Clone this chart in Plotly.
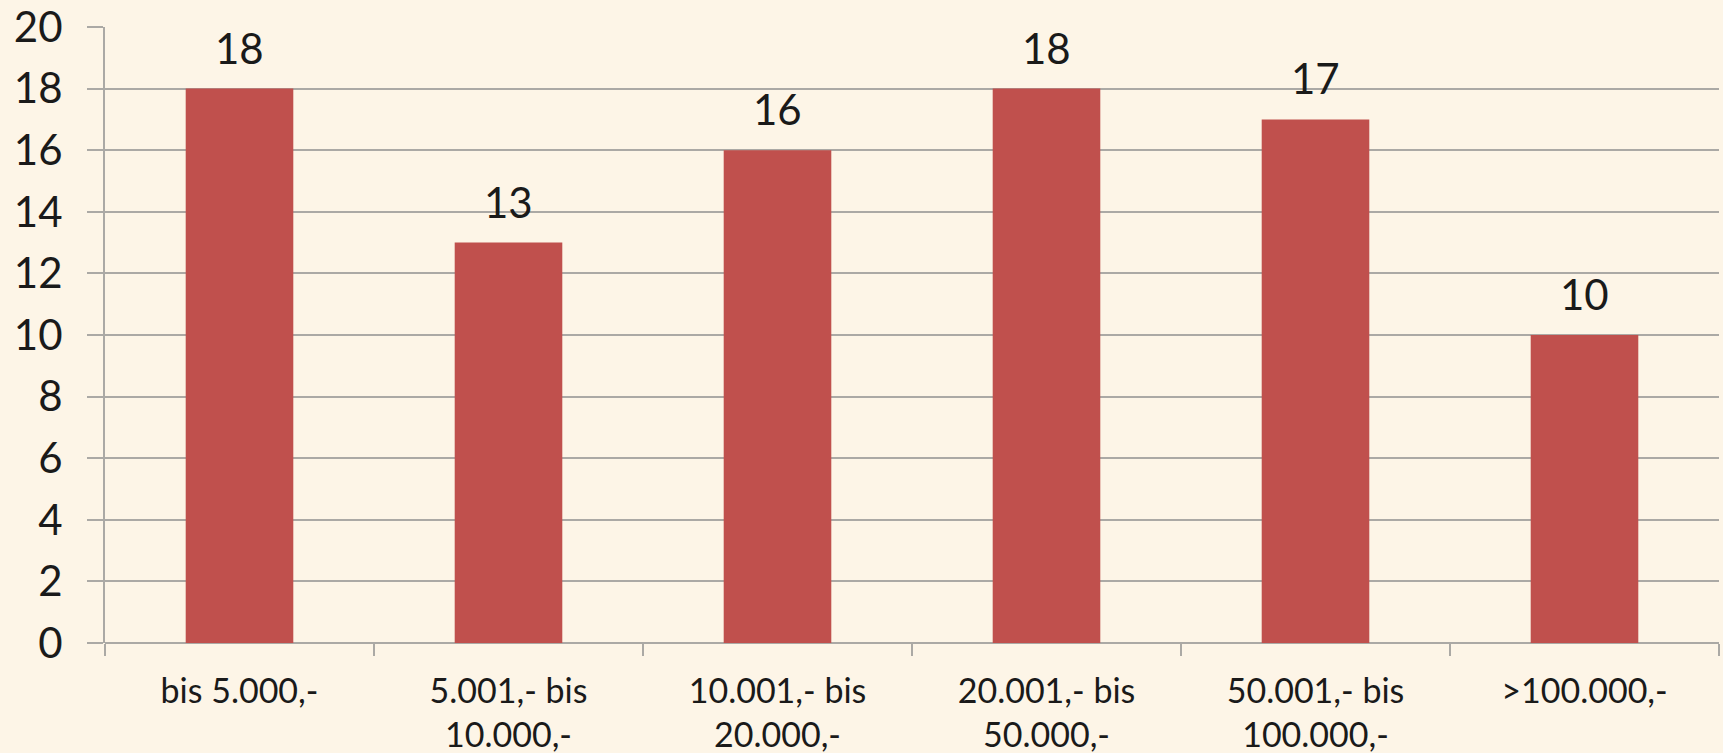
import plotly.graph_objects as go

categories = ["bis 5.000,-", "5.001,- bis<br>10.000,-", "10.001,- bis<br>20.000,-",
              "20.001,- bis<br>50.000,-", "50.001,- bis<br>100.000,-", ">100.000,-"]
values = [18, 13, 16, 18, 17, 10]
y_ticks = [0, 2, 4, 6, 8, 10, 12, 14, 16, 18, 20]

BG = "#FDF5E7"
BAR = "#C0504D"
GRID = "#ABA9A5"
FONT = "Lato, Carlito, Calibri, sans-serif"

fig = go.Figure()
fig.add_trace(go.Bar(x=categories, y=values, marker=dict(color=BAR, line=dict(width=0)),
                     width=0.4, hoverinfo="skip"))

for c, v in zip(categories, values):
    fig.add_annotation(x=c, y=v, text=str(v), showarrow=False, yanchor="bottom",
                       yshift=14, font=dict(family=FONT, size=42, color="#1a1a1a"))

fig.update_layout(
    width=1723, height=753,
    paper_bgcolor=BG, plot_bgcolor=BG,
    margin=dict(l=105, r=4, t=27, b=110),
    showlegend=False,
    bargap=0.6,
)
fig.update_xaxes(
    type="category", tickson="boundaries", ticks="outside", ticklen=12, tickwidth=2,
    tickcolor=GRID, showline=False, showgrid=False, ticklabelstandoff=25,
    automargin=False,
    tickfont=dict(family=FONT, size=34, color="#1a1a1a"),
)
fig.update_yaxes(
    range=[0, 20], tickvals=y_ticks, ticks="outside", ticklen=16, tickwidth=2,
    tickcolor=GRID, showgrid=True, gridcolor=GRID, gridwidth=2,
    showline=True, linecolor=GRID, linewidth=2, zeroline=True, zerolinecolor=GRID,
    zerolinewidth=2, ticklabelstandoff=16, automargin=False,
    tickfont=dict(family=FONT, size=42, color="#1a1a1a"),
)

fig.write_html(
    "out.html",
    config={"displayModeBar": False},
    post_script="document.body.style.margin='0';document.body.style.overflow='hidden';"
                "document.body.style.background='" + BG + "';",
)
